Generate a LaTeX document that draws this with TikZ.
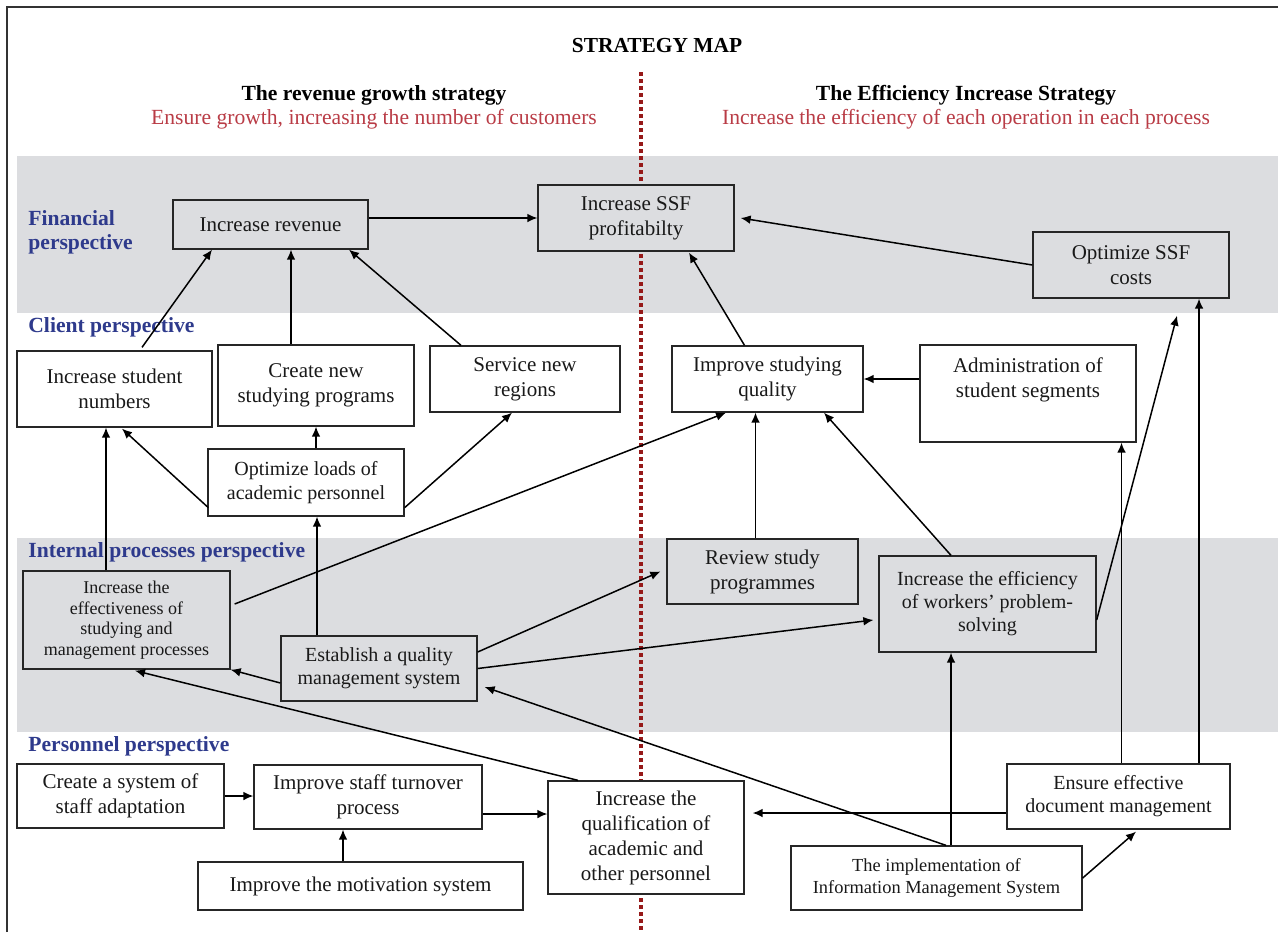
\documentclass[tikz,border=0pt]{standalone}
\usepackage{fontspec}
\setmainfont{Liberation Serif}
\usetikzlibrary{arrows.meta,calc}
\definecolor{bandgrey}{RGB}{220,221,224}
\definecolor{persblue}{RGB}{46,58,140}
\definecolor{stratred}{RGB}{185,60,70}
\definecolor{divred}{RGB}{150,25,25}

\begin{document}
\begin{tikzpicture}[x=0.5pt,y=-0.5pt,
  box/.style={draw=black!85, line width=0.65pt, align=center, inner sep=0pt,
    font=\fontsize{10.5}{12.5}\selectfont, text=black!90},
  inband/.style={box, fill=bandgrey},
  outband/.style={box, fill=white},
  smalltext/.style={font=\fontsize{9.2}{11}\selectfont},
  persp/.style={anchor=west, align=left, inner sep=0pt, text=persblue, font=\fontsize{10.8}{12}\selectfont\bfseries},
  link/.style={-{Latex[length=5pt,width=4.4pt]}, line width=0.75pt}]
\useasboundingbox (0,0) rectangle (1278,932);
\fill[bandgrey] (17,156) rectangle (1278,313);
\fill[bandgrey] (17,538) rectangle (1278,732);
\draw[line width=0.8pt, black!80] (7,932) -- (7,7) -- (1278,7);
\draw[divred, line width=1.75pt, dash pattern=on 2pt off 1.5pt] (641,72) -- (641,932);

\node[font=\fontsize{10.7}{13}\selectfont\bfseries] (title) at (657,46) {STRATEGY MAP};
\node[font=\fontsize{10.8}{13}\selectfont\bfseries] (lefthead) at (374,95) {The revenue growth strategy};
\node[font=\fontsize{10.8}{13}\selectfont, text=stratred] (leftsub) at (374,119) {Ensure growth, increasing the number of customers};
\node[font=\fontsize{10.8}{13}\selectfont\bfseries] (righthead) at (966,95) {The Efficiency Increase Strategy};
\node[font=\fontsize{10.8}{13}\selectfont, text=stratred] (rightsub) at (966,119) {Increase the efficiency of each operation in each process};

\node[persp] (financial) at (28,232) {Financial\\perspective};
\node[persp] (client) at (28,327) {Client perspective};
\node[persp] (internal) at (28,552) {Internal processes perspective};
\node[persp] (personnel) at (28,746) {Personnel perspective};

% financial
\node[inband, minimum width=97.5pt, minimum height=24.5pt] (rev) at (270.5,224.5) {Increase revenue};
\node[inband, minimum width=98pt, minimum height=33pt] (prof) at (636,218) {Increase SSF\\profitabilty};
\node[inband, minimum width=98pt, minimum height=33pt] (cost) at (1131,265) {Optimize SSF\\costs};
% client
\node[outband, minimum width=97.5pt, minimum height=38pt] (stud) at (114.5,389) {Increase student\\numbers};
\node[outband, minimum width=98pt, minimum height=40.5pt] (prog) at (316,385.5) {Create new\\studying programs};
\node[outband, minimum width=95pt, minimum height=33pt] (reg) at (525,379) {Service new\\regions};
\node[outband, minimum width=95.5pt, minimum height=33pt] (qual) at (767.5,379) {Improve studying\\quality};
\node[outband, minimum width=108pt, minimum height=48.5pt] (seg) at (1028,393.5) {Administration of\\student segments\\\strut};
\node[outband, minimum width=98pt, minimum height=33.5pt, font=\fontsize{10}{12}\selectfont] (load) at (306,482.5) {Optimize loads of\\academic personnel};
% internal processes
\node[inband, minimum width=103.5pt, minimum height=49pt, font=\fontsize{9}{10.25}\selectfont] (eff) at (126.5,620) {Increase the\\effectiveness of\\studying and\\management processes};
\node[inband, minimum width=98pt, minimum height=32.5pt, font=\fontsize{10}{11.5}\selectfont] (qms) at (379,668.5) {Establish a quality\\management system};
\node[inband, minimum width=95.5pt, minimum height=32.5pt] (review) at (762.5,571.5) {Review study\\programmes};
\node[inband, minimum width=108.5pt, minimum height=48pt, font=\fontsize{10}{11.5}\selectfont] (solve) at (987.5,604) {Increase the efficiency\\of workers' problem-\\solving};
% personnel
\node[outband, minimum width=103.5pt, minimum height=32pt] (adapt) at (120.5,796) {Create a system of\\staff adaptation};
\node[outband, minimum width=114pt, minimum height=32pt] (turn) at (368,797) {Improve staff turnover\\process};
\node[outband, minimum width=162.5pt, minimum height=24pt] (motiv) at (360.5,886) {Improve the motivation system};
\node[outband, minimum width=98pt, minimum height=56.5pt] (quali) at (646,837.5) {Increase the\\qualification of\\academic and\\other personnel};
\node[outband, minimum width=111.5pt, minimum height=32.5pt, font=\fontsize{10}{11.5}\selectfont] (doc) at (1118.5,796.5) {Ensure effective\\document management};
\node[outband, minimum width=145.5pt, minimum height=32pt, smalltext] (ims) at (936.5,878) {The implementation of\\Information Management System};

\path[link] (rev.east |- prof.west) edge (prof.west)
            (cost.west) edge ($(prof.east)+(6,0)$)
            ($(stud.north)+(27.5,-3)$) edge ($(rev.south)+(-58.5,0)$)
            ($(prog.north)+(-25,0)$) edge ($(prog.north |- rev.south)+(-25,0)$)
            ($(reg.north)+(-64,0)$) edge ($(rev.south)+(78.5,0)$)
            ($(load.south west)+(1,-9)$) edge ($(stud.south)+(7.5,1)$)
            (prog.south |- load.north) edge (prog.south)
            ($(load.south east)+(0,-9)$) edge ($(reg.south)+(-13,0)$)
            ($(eff.north)+(-20.5,0)$) edge ($(eff.north |- stud.south)+(-20.5,0)$)
            ($(eff.east)+(4,-16)$) edge ($(qual.south)+(-41.5,0)$)
            ($(qms.north)+(-62,0)$) edge ($(qms.north |- load.south)+(-62,0)$)
            ($(qms.west)+(0,14.5)$) edge (eff.south east)
            ($(quali.north)+(-68,0)$) edge ($(eff.south)+(8.5,1)$)
            ($(qms.east)+(0,-16.5)$) edge ($(review.west)+(-6,0)$)
            (qms.east) edge ($(solve.west)+(-5,16)$)
            ($(ims.north)+(9.5,0)$) edge ($(qms.east)+(7,18.5)$)
            (adapt.east) edge (turn.west |- adapt.east)
            ($(turn.east)+(0,17)$) edge ($(quali.west)+(0,-23.5)$)
            ($(motiv.north)+(-17.5,0)$) edge ($(motiv.north |- turn.south)+(-17.5,0)$)
            ($(doc.west)+(0,16.5)$) edge ($(quali.east)+(8,-24.5)$)
            ($(ims.north)+(14.5,0)$) edge ($(ims.north |- solve.south)+(14.5,0)$)
            (ims.east) edge ($(doc.south)+(17.5,2)$)
            ($(doc.north)+(3,0)$) edge ($(doc.north |- seg.south)+(3,0)$)
            ($(doc.north)+(80.5,0)$) edge ($(doc.north |- cost.south)+(80.5,0)$)
            ($(solve.east)+(0,16)$) edge ($(cost.south)+(46,17)$)
            ($(qual.north)+(-23,0)$) edge ($(prof.south)+(53,1)$)
            (seg.west |- qual.east) edge (qual.east)
            ($(review.north)+(-7,0)$) edge ($(review.north |- qual.south)+(-7,0)$)
            ($(solve.north)+(-36.5,0)$) edge ($(qual.south)+(56.5,0)$);
\end{tikzpicture}
\end{document}
